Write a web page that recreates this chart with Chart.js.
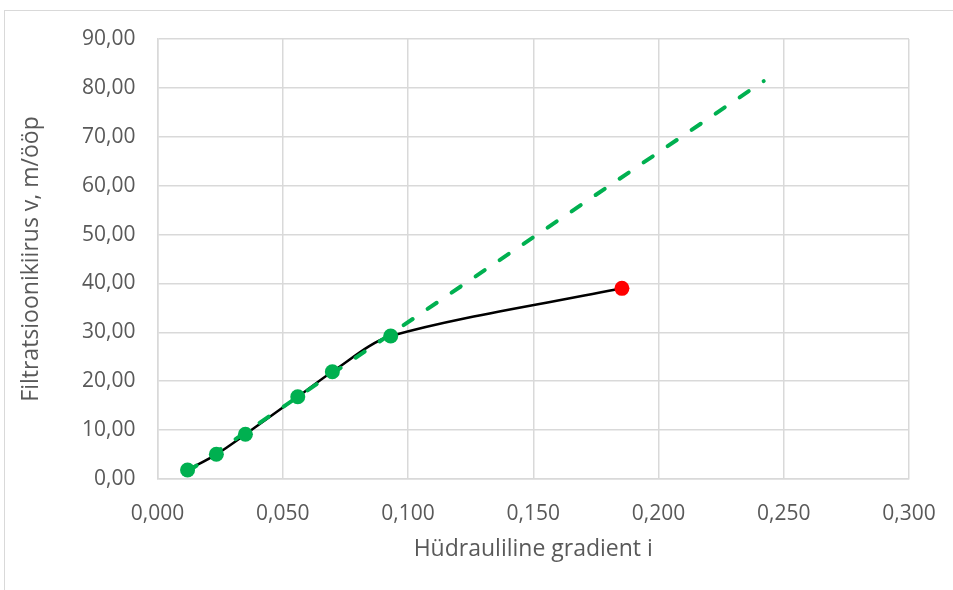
<!DOCTYPE html>
<html>
<head>
<meta charset="utf-8">
<script src="https://cdn.jsdelivr.net/npm/chart.js@4.4.1/dist/chart.umd.min.js"></script>
<style>
    body { margin: 0; background: #fff; }
    #raam { position: absolute; left: 4px; top: 10px; width: 970px; height: 600px; border: 1px solid #d9d9d9; }
    #wrap { position: absolute; left: 0; top: 0; width: 953px; height: 590px; }
</style>
</head>
<body>
<div id="raam"></div>
<div id="wrap"><canvas id="graafik" width="953" height="590"></canvas></div>
<script>
// mõõtmistulemused
const gradient = [0.012, 0.0235, 0.0351, 0.056, 0.0698, 0.0931, 0.1854];
const kiirus = [1.84, 5.05, 9.14, 16.83, 21.94, 29.24, 39.0];

// lineaarne trend (algus- ja lõpp-punkt)
const trendX = [0.012, 0.242];
const trendY = [1.5, 81.4];

const xTicks = ['0,000', '0,050', '0,100', '0,150', '0,200', '0,250', '0,300'];
const yTicks = ['0,00', '10,00', '20,00', '30,00', '40,00', '50,00', '60,00', '70,00', '80,00', '90,00'];

const roheline = '#00B050';
const punane = '#FF0000';
const ruudustik = '#d9d9d9';
const tekst = '#595959';
const font = { family: 'Open Sans', size: 21 };
const pealkiri = { family: 'Open Sans', size: 23 };

function punktid(xs, ys) {
    return xs.map(function (x, i) { return { x: x, y: ys[i] }; });
}

const koik = punktid(gradient, kiirus);

const config = {
    type: 'scatter',
    data: {
        datasets: [
            {
                label: 'mõõdetud',
                data: koik.slice(0, 6),
                pointRadius: 7.5,
                pointBackgroundColor: roheline,
                pointBorderWidth: 0,
                showLine: false,
                order: 0
            },
            {
                label: 'piir',
                data: koik.slice(6),
                pointRadius: 7.5,
                pointBackgroundColor: punane,
                pointBorderWidth: 0,
                showLine: false,
                order: 0
            },
            {
                label: 'trend',
                data: punktid(trendX, trendY),
                showLine: true,
                borderColor: roheline,
                borderWidth: 4,
                borderDash: [11, 18],
                borderCapStyle: 'round',
                pointRadius: 0,
                order: 1
            },
            {
                label: 'kõver',
                data: koik,
                showLine: true,
                borderColor: '#000000',
                borderWidth: 2.5,
                tension: 0.3,
                pointRadius: 0,
                order: 2
            }
        ]
    },
    options: {
        responsive: false,
        animation: false,
        layout: { padding: { top: 39, right: 44, left: 18, bottom: 27 } },
        plugins: {
            legend: { display: false },
            tooltip: { enabled: false }
        },
        scales: {
            x: {
                type: 'linear',
                min: 0,
                max: 0.3,
                afterBuildTicks: function (scale) {
                    scale.ticks = xTicks.map(function (t, i) { return { value: i * 0.05 }; });
                },
                afterFit: function (scale) {
                    scale.height = 84;
                    scale.paddingRight = 0;
                },
                ticks: {
                    color: tekst,
                    font: font,
                    padding: 22,
                    maxRotation: 0,
                    callback: function (v, i) { return xTicks[i]; }
                },
                grid: { color: ruudustik, lineWidth: 1.5, drawTicks: false },
                border: { color: ruudustik, width: 1.5 },
                title: {
                    display: true,
                    text: 'Hüdrauliline gradient i',
                    color: tekst,
                    font: pealkiri,
                    padding: { top: 4, bottom: 0 }
                }
            },
            y: {
                type: 'linear',
                min: 0,
                max: 90,
                afterBuildTicks: function (scale) {
                    scale.ticks = yTicks.map(function (t, i) { return { value: i * 10 }; });
                },
                afterFit: function (scale) { scale.width = 139.5; },
                ticks: {
                    color: tekst,
                    font: font,
                    padding: 22,
                    callback: function (v, i) { return yTicks[i]; }
                },
                grid: { color: ruudustik, lineWidth: 1.5, drawTicks: false },
                border: { color: ruudustik, width: 1.5 },
                title: {
                    display: true,
                    text: 'Filtratsioonikiirus v, m/ööp',
                    color: tekst,
                    font: pealkiri,
                    padding: { top: 0, bottom: 0 }
                }
            }
        }
    }
};

new Chart(document.getElementById('graafik'), config);
</script>
</body>
</html>
